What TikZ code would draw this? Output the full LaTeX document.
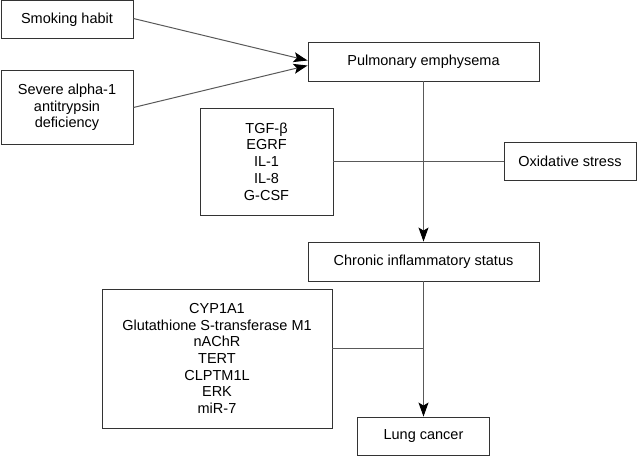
\documentclass[tikz,border=0pt]{standalone}
\usepackage{fontspec}
\setmainfont{Liberation Sans}
\usetikzlibrary{arrows.meta}

\begin{document}
\begin{tikzpicture}[x=1pt,y=-1pt]
        \tikzstyle{box} = [draw=black!80,line width=0.9pt,inner sep=0pt,align=center,
          font=\fontsize{14.5}{16.7}\selectfont]
        \tikzstyle{conn} = [draw=black!65,line width=1pt]
        \tikzstyle{arr} = [conn,-{Stealth[length=14pt,width=10pt,inset=3pt,color=black]}]
        \useasboundingbox (0,0) rectangle (637,456);

        % causes
        \node[box,minimum width=132pt,minimum height=38pt] (smoke) at (67,19.5) {Smoking habit};
        \node[box,minimum width=132pt,minimum height=74pt] (alpha) at (67,107.5)
          {Severe alpha-1\\antitrypsin\\deficiency};

        % main chain
        \node[box,minimum width=231pt,minimum height=39pt] (emph) at (423.5,61.5) {Pulmonary emphysema};
        \node[box,minimum width=231pt,minimum height=39pt] (chron) at (423.5,261.5) {Chronic inflammatory status};
        \node[box,minimum width=132pt,minimum height=38pt] (lung) at (423.5,436) {Lung cancer};

        % side factors
        \node[box,minimum width=133pt,minimum height=107pt] (cyto) at (266.5,161.5)
          {TGF-β\\EGRF\\IL-1\\IL-8\\G-CSF};
        \node[box,minimum width=132pt,minimum height=38pt] (oxid) at (570,161.5) {Oxidative stress};
        \node[box,minimum width=230pt,minimum height=139pt] (genes) at (217,358.5)
          {CYP1A1\\Glutathione S-transferase M1\\nAChR\\TERT\\CLPTM1L\\ERK\\miR-7};

        \coordinate (tip1) at ([yshift=1pt]emph.west);
        \coordinate (tip2) at ([yshift=-4pt]emph.west);
        \coordinate (join) at ([yshift=10pt]genes.east);

        \draw[arr] ([yshift=1pt]smoke.east) -- (tip1);
        \draw[arr] (alpha.east) -- (tip2);
        \draw[arr] (emph) -- (chron);
        \draw[conn] (cyto) -- (oxid);
        \draw[arr] (chron) -- (lung);
        \draw[conn] (join) -- (join -| chron.south);
\end{tikzpicture}
\end{document}
